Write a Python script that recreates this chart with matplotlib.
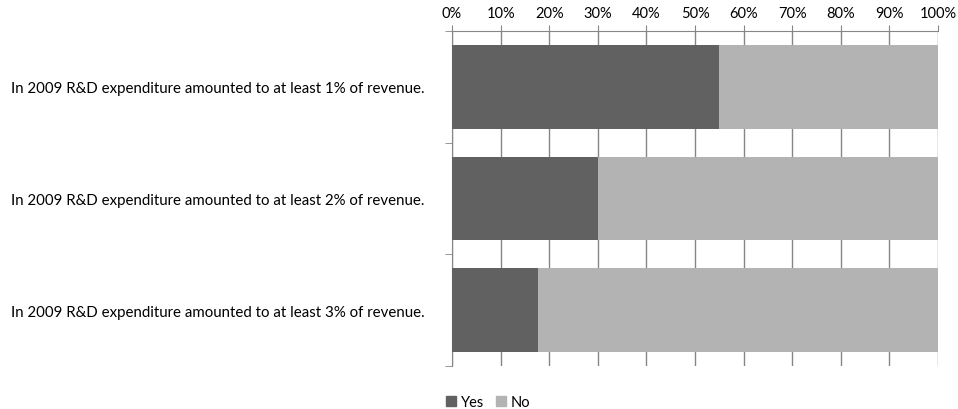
import numpy as np
import matplotlib.pyplot as plt
from matplotlib.patches import Patch

plt.rcParams['font.family'] = ['Lato', 'DejaVu Sans']

categories = [
    'In 2009 R&D expenditure amounted to at least 1% of revenue.',
    'In 2009 R&D expenditure amounted to at least 2% of revenue.',
    'In 2009 R&D expenditure amounted to at least 3% of revenue.',
]
yes = np.array([55.0, 30.0, 17.7])
no = 100 - yes
ticks = np.arange(0, 101, 10)
tick_labels = [f'{t}%' for t in ticks]

c_yes = '#616161'
c_no = '#b3b3b3'
c_grid = '#868686'

fig = plt.figure(figsize=(9.58, 4.10), dpi=100)
ax = fig.add_axes([452 / 958, 1 - 367 / 410, 486 / 958, 335 / 410])

y = np.arange(len(categories))
ax.barh(y, yes, height=0.75, color=c_yes, zorder=3)
ax.barh(y, no, left=yes, height=0.75, color=c_no, zorder=3)

ax.set_xlim(0, 100)
ax.set_ylim(2.5, -0.5)
ax.xaxis.tick_top()
ax.set_xticks(ticks)
ax.set_xticklabels(tick_labels, fontsize=10.5)
ax.tick_params(axis='x', direction='out', length=4, color=c_grid, pad=4)
ax.grid(axis='x', color=c_grid, linewidth=1, zorder=0)

ax.set_yticks(y)
ax.set_yticklabels(categories, fontsize=10.8)
ax.tick_params(axis='y', length=0, pad=20)
ax.set_yticks([-0.5, 0.5, 1.5, 2.5], minor=True)
ax.tick_params(axis='y', which='minor', direction='out', length=5, color=c_grid)

for s in ['right', 'bottom']:
    ax.spines[s].set_visible(False)
for s in ['top', 'left']:
    ax.spines[s].set_color(c_grid)

handles = [Patch(color=c_yes, label='Yes'), Patch(color=c_no, label='No')]
fig.legend(handles=handles, loc='center', bbox_to_anchor=(488 / 958, 1 - 403 / 410),
           ncol=2, frameon=False, fontsize=10.5, handlelength=0.7, handleheight=0.7,
           handletextpad=0.3, columnspacing=0.8, borderaxespad=0)

fig.savefig('out.png', dpi=100)
